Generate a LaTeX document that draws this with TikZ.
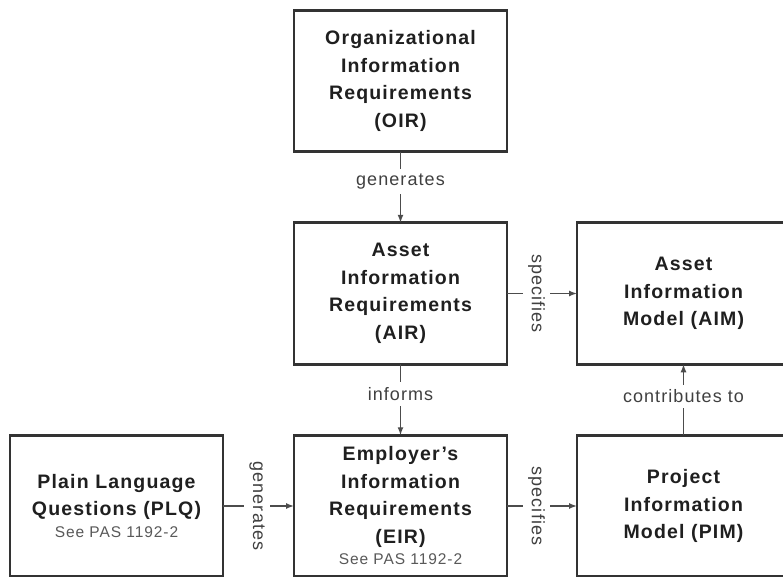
\documentclass[tikz,border=0pt]{standalone}
\usepackage{fontspec}
\setsansfont[LetterSpace=6]{Liberation Sans}
\usetikzlibrary{positioning,arrows.meta}

\begin{document}
\begin{tikzpicture}[
  x=1pt,y=1pt,
  font=\sffamily,
  box/.style={rectangle,draw=black!80,line width=2.6pt,fill=white,outer sep=0pt,
              minimum width=213pt,minimum height=141.5pt,align=center,inner sep=0pt,
              text=black!88,font=\sffamily\bfseries\fontsize{19.5pt}{27.5pt}\selectfont},
  lbl/.style={fill=white,text=black!75,inner sep=5pt,
              font=\sffamily\fontsize{18pt}{20pt}\selectfont},
  arr/.style={-{Latex[length=8pt,width=6pt]},line width=1.4pt,black!70},
]
\newcommand{\pasref}{\\[-6pt]{\mdseries\fontsize{15.5pt}{17pt}\selectfont\color{black!65}See PAS 1192-2}}
\useasboundingbox (0,0) rectangle (783,-577);

% ---------- boxes ----------
\node[box] (OIR) at (400.5,-81) {Organizational\\Information\\Requirements\\(OIR)};
\node[box,below=71pt of OIR] (AIR) {Asset\\Information\\Requirements\\(AIR)};
\node[box,right=70pt of AIR] (AIM) {Asset\\Information\\Model (AIM)};
\node[box,below=71pt of AIR] (EIR) {Employer's\\Information\\Requirements\\(EIR)\pasref};
\node[box,left=71pt of EIR] (PLQ) {Plain Language\\Questions (PLQ)\pasref};
\node[box,right=70pt of EIR] (PIM) {Project\\Information\\Model (PIM)};

% ---------- connectors ----------
\draw[arr] (OIR) -- node[lbl,pos=0.42] (gen1) {generates} (AIR);
\draw[arr] (AIR) -- node[lbl,pos=0.42] (inf) {informs} (EIR);
\draw[arr] (AIR) -- node[lbl,rotate=-90,pos=0.42] (spec1) {specifies} (AIM);
\draw[arr] (PLQ) -- node[lbl,rotate=-90,pos=0.48] (gen2) {generates} (EIR);
\draw[arr] (EIR) -- node[lbl,rotate=-90,pos=0.42] (spec2) {specifies} (PIM);
\draw[arr] (PIM) -- node[lbl,pos=0.55] (contr) {contributes to} (AIM);
\end{tikzpicture}
\end{document}
